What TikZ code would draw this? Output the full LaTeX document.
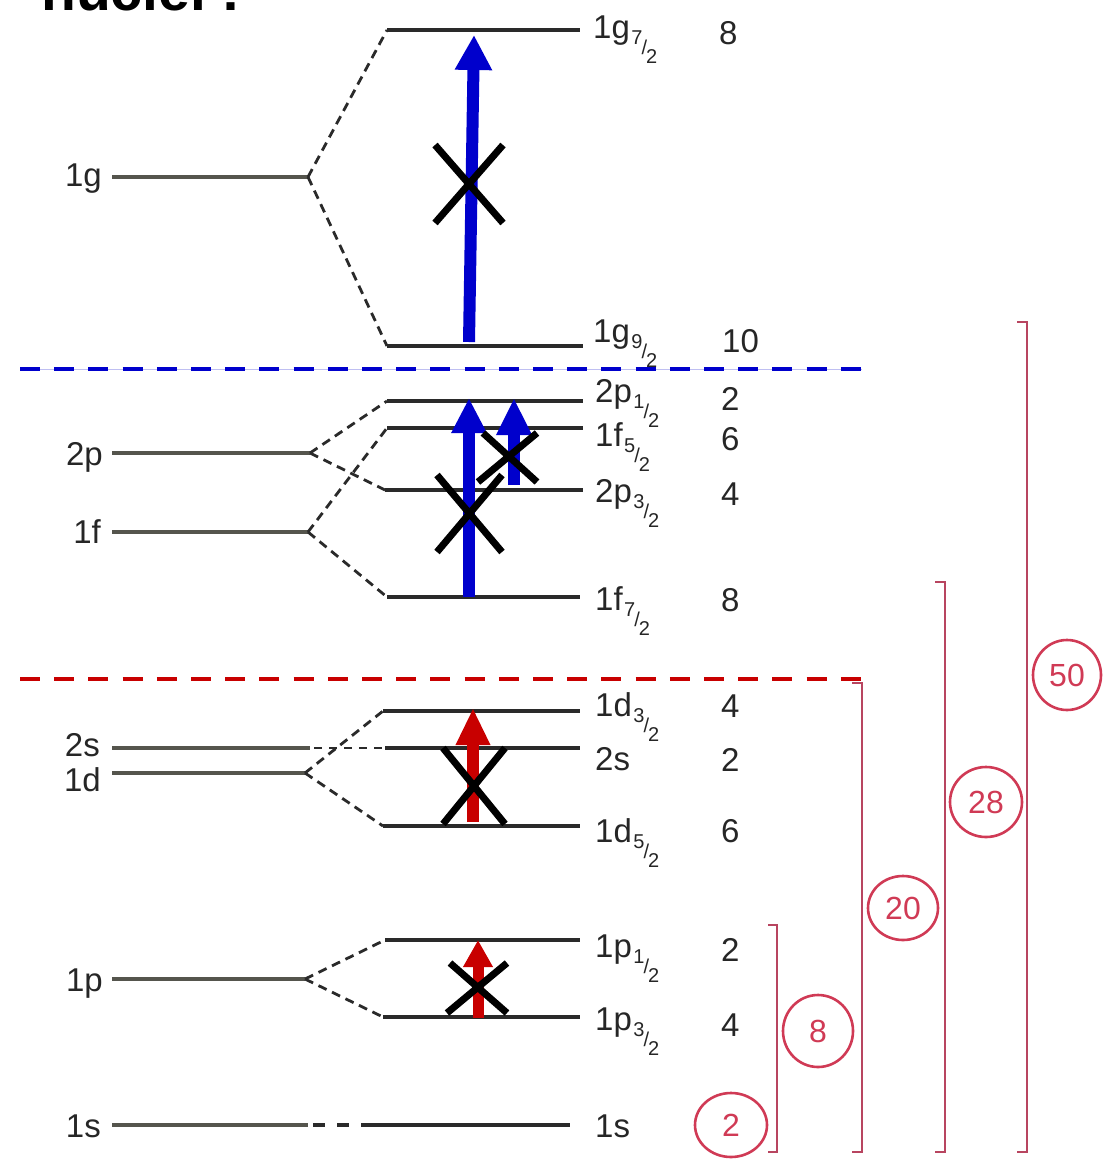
\documentclass[tikz,border=0pt]{standalone}
\usepackage{fontspec}
\setmainfont{Liberation Sans}
\usetikzlibrary{arrows.meta,shapes.geometric}

\definecolor{levleft}{HTML}{55554D}
\definecolor{levright}{HTML}{2A2A2A}
\definecolor{inktext}{HTML}{262626}
\definecolor{arrblue}{HTML}{0000CC}
\definecolor{arrred}{HTML}{C80000}
\definecolor{brkred}{HTML}{B84560}
\definecolor{ringred}{HTML}{D03A55}

% slanted j = n/2 subscript
\newcommand{\jfrac}[2]{{\fontsize{20}{20}\selectfont\kern1.5pt\raisebox{-6pt}{#1}\kern-1pt\raisebox{-16pt}{/}\kern-1pt\raisebox{-25pt}{#2}}}

\tikzset{
  levL/.style={draw=levleft, line width=3.6pt},
  levR/.style={draw=levright, line width=3.2pt},
  split/.style={draw=levright, line width=2.8pt, dash pattern=on 9pt off 6pt},
  lab/.style={inner sep=0pt, text=inktext, font=\fontsize{33}{33}\selectfont},
  leftlab/.style={lab, anchor=base east},
  rightlab/.style={lab, anchor=base west},
  deg/.style={lab, anchor=base west},
  shellsep/.style={line width=4.5pt, dash pattern=on 20pt off 14.2pt},
  upblue/.style={draw=arrblue, line width=12pt, -{Triangle[width=35pt,length=35pt]}},
  upred/.style={draw=arrred, line width=12pt, -{Triangle[width=32pt,length=37pt]}},
  xmark/.style={draw=black, line width=7pt},
  brk/.style={draw=brkred, line width=2.8pt},
  ring/.style={ellipse, draw=ringred, line width=2.6pt, text=ringred, inner sep=0pt,
               font=\fontsize{32}{32}\selectfont},
}

\begin{document}
\begin{tikzpicture}[x=1pt, y=-1pt]
\useasboundingbox (0,0) rectangle (1112,1159);

% heading, partly above the page edge
\node[anchor=base west, inner sep=0pt, font=\bfseries\fontsize{57}{57}\selectfont, text=black]
  (title) at (41,10) {nuclei :};

% ---------- unsplit levels (left) ----------
\coordinate (a1g) at (112,177);  \coordinate (b1g) at (308,177);
\coordinate (a2p) at (112,453);  \coordinate (b2p) at (310,453);
\coordinate (a1f) at (112,532);  \coordinate (b1f) at (308,532);
\coordinate (a2s) at (112,748);  \coordinate (b2s) at (310,748);
\coordinate (a1d) at (112,773);  \coordinate (b1d) at (305,773);
\coordinate (a1p) at (112,979);  \coordinate (b1p) at (305,979);
\coordinate (a1s) at (112,1125); \coordinate (b1s) at (308,1125);

\foreach \n in {1g,2p,1f,2s,1d,1p,1s} \draw[levL] (a\n) -- (b\n);

\node[leftlab] (t1g) at (102,186)  {1g};
\node[leftlab] (t2p) at (103,465)  {2p};
\node[leftlab] (t1f) at (101,543)  {1f};
\node[leftlab] (t2s) at (100,756)  {2s};
\node[leftlab] (t1d) at (101,791)  {1d};
\node[leftlab] (t1p) at (103,991)  {1p};
\node[leftlab] (t1s) at (101,1137) {1s};

% ---------- spin-orbit split levels (right) ----------
\coordinate (g7a) at (387,30);   \coordinate (g7b) at (580,30);
\coordinate (g9a) at (387,346);  \coordinate (g9b) at (583,346);
\coordinate (p1a) at (387,401);  \coordinate (p1b) at (583,401);
\coordinate (f5a) at (387,428);  \coordinate (f5b) at (583,428);
\coordinate (p3a) at (385,490);  \coordinate (p3b) at (583,490);
\coordinate (f7a) at (387,597);  \coordinate (f7b) at (580,597);
\coordinate (d3a) at (383,711);  \coordinate (d3b) at (580,711);
\coordinate (s2a) at (385,748);  \coordinate (s2b) at (580,748);
\coordinate (d5a) at (383,826);  \coordinate (d5b) at (580,826);
\coordinate (q1a) at (385,940);  \coordinate (q1b) at (580,940);
\coordinate (q3a) at (383,1017); \coordinate (q3b) at (580,1017);
\coordinate (s1a) at (372,1125); \coordinate (s1b) at (570,1125);

\foreach \n in {g7,g9,p1,f5,p3,f7,d3,s2,d5,q1,q3,s1} \draw[levR] (\n a) -- (\n b);

% splitting lines
\draw[split] (b1g) -- (g7a);
\draw[split] (b1g) -- (g9a);
\draw[split] (b2p) -- (p1a);
\draw[split] (b2p) -- (p3a);
\draw[split] (b1f) -- (f5a);
\draw[split] (b1f) -- (f7a);
\draw[split] (b1d) -- (d3a);
\draw[split] (b1d) -- (d5a);
\draw[split] (b1p) -- (q1a);
\draw[split] (b1p) -- (q3a);
\draw[split, dash pattern=on 8pt off 7pt, dash phase=-4pt] (b2s) -- (s2a);
\coordinate (s1gap) at (313,1125);
\draw[split, line width=3.4pt, dash pattern=on 12pt off 12pt] (s1gap) -- (s1a);

% level names
\node[rightlab] (n1) at (593,38)   {1g\jfrac{7}{2}};
\node[rightlab] (n2) at (593,342)  {1g\jfrac{9}{2}};
\node[rightlab] (n3) at (595,402)  {2p\jfrac{1}{2}};
\node[rightlab] (n4) at (595,446)  {1f\jfrac{5}{2}};
\node[rightlab] (n5) at (595,502)  {2p\jfrac{3}{2}};
\node[rightlab] (n6) at (595,610)  {1f\jfrac{7}{2}};
\node[rightlab] (n7) at (595,716)  {1d\jfrac{3}{2}};
\node[rightlab] (n8) at (595,770)  {2s};
\node[rightlab] (n9) at (595,842)  {1d\jfrac{5}{2}};
\node[rightlab] (n10) at (595,957) {1p\jfrac{1}{2}};
\node[rightlab] (n11) at (595,1030){1p\jfrac{3}{2}};
\node[rightlab] (n12) at (595,1137){1s};

% occupation numbers
\node[deg] (o1) at (719,44)    {8};
\node[deg] (o2) at (722,352)   {10};
\node[deg] (o3) at (721,410)   {2};
\node[deg] (o4) at (721,450)   {6};
\node[deg] (o5) at (721,505)   {4};
\node[deg] (o6) at (721,611)   {8};
\node[deg] (o7) at (721,717)   {4};
\node[deg] (o8) at (721,771)   {2};
\node[deg] (o9) at (721,842)   {6};
\node[deg] (o10) at (721,961)  {2};
\node[deg] (o11) at (721,1036) {4};

% ---------- shell gaps ----------
\coordinate (sbA) at (20,369);  \coordinate (sbB) at (862,369);
\coordinate (srA) at (20,679);  \coordinate (srB) at (862,679);
\draw[draw=arrblue!25, line width=0.8pt] (sbA) -- (sbB);
\draw[shellsep, draw=arrblue] (sbA) -- (sbB);
\draw[shellsep, draw=arrred] (srA) -- (srB);

% ---------- forbidden excitations ----------
\coordinate (e1s) at (469,342); \coordinate (e1t) at (474,35);
\coordinate (e2s) at (469,597); \coordinate (e2t) at (469,398);
\coordinate (e3s) at (514,485); \coordinate (e3t) at (514,398);
\coordinate (e4s) at (473,822); \coordinate (e4t) at (473,708);
\coordinate (e5s) at (478,1018);\coordinate (e5t) at (478,940);

\draw[upblue] (e1s) -- (e1t);
\draw[upblue, -{Triangle[width=33pt,length=35pt]}] (e2s) -- (e2t);
\draw[upblue, -{Triangle[width=33pt,length=37pt]}] (e3s) -- (e3t);
\draw[upred] (e4s) -- (e4t);
\draw[upred, line width=11pt, -{Triangle[width=28pt,length=27pt]}] (e5s) -- (e5t);

\draw[xmark] (435,145) -- (503,223) (503,145) -- (435,223);
\draw[xmark] (437,475) -- (502,552) (502,475) -- (437,552);
\draw[xmark] (483,433) -- (537,482) (537,433) -- (478,482);
\draw[xmark] (443,748) -- (505,824) (505,748) -- (443,824);
\draw[xmark] (450,963) -- (507,1013) (507,963) -- (447,1013);

% ---------- magic-number brackets ----------
\draw[brk] (768,925) -- (777,925) -- (777,1152) -- (768,1152);
\draw[brk] (852,683) -- (862,683) -- (862,1152) -- (852,1152);
\draw[brk] (935,582) -- (945,582) -- (945,1152) -- (935,1152);
\draw[brk] (1017,322) -- (1027,322) -- (1027,1152) -- (1017,1152);

\node[ring, minimum width=72pt, minimum height=64pt] (m2)  at (731,1125) {2};
\node[ring, minimum width=70pt, minimum height=72pt] (m8)  at (818,1031) {8};
\node[ring, minimum width=70pt, minimum height=64pt] (m20) at (903,908)  {20};
\node[ring, minimum width=72pt, minimum height=70pt] (m28) at (986,802)  {28};
\node[ring, minimum width=68pt, minimum height=70pt] (m50) at (1067,675) {50};
\end{tikzpicture}
\end{document}
